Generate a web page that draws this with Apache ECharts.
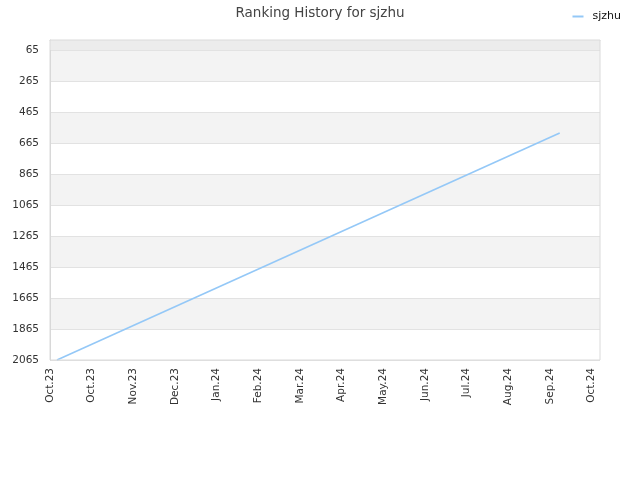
<!DOCTYPE html>
<html><head><meta charset="utf-8">
<script src="https://cdn.jsdelivr.net/npm/echarts@6/dist/echarts.min.js"></script>
<style>html,body{margin:0;padding:0;background:#fff}#c{width:640px;height:480px}</style>
</head><body><div id="c"></div>
<script>
// x values are days since 2023-10-01
const xTickLabels = ['Oct.23','Oct.23','Nov.23','Dec.23','Jan.24','Feb.24','Mar.24','Apr.24','May.24','Jun.24','Jul.24','Aug.24','Sep.24','Oct.24'];
const xTickDays = [0,30,60,90,120,150,180,210,240,270,300,330,360,390];
const yTicks = [65,265,465,665,865,1065,1265,1465,1665,1865,2065];
const seriesDays = [5, 367];
const seriesRanks = [2065, 600];
const seriesName = 'sjzhu';

const chart = echarts.init(document.getElementById('c'));
chart.setOption({
  animation: false,
  textStyle: {fontFamily: 'DejaVu Sans'},
  title: {text: 'Ranking History for ' + seriesName, left: 'center', top: 1,
    textStyle: {fontSize: 13.5, fontWeight: 'normal', color: '#444', fontFamily: 'DejaVu Sans'}},
  legend: {right: 14, top: 6, itemWidth: 11, itemHeight: 2, itemGap: 10, icon: 'rect',
    textStyle: {fontSize: 11, color: '#111', fontFamily: 'DejaVu Sans', padding: [0,0,0,4]}, data: [seriesName]},
  grid: {left: 50, right: 40, top: 40, bottom: 120, show: true, borderColor: '#dadada', borderWidth: 1, backgroundColor: 'transparent', z: 5},
  xAxis: {type: 'value', min: 0, max: 396, interval: 30,
    axisLine: {show: true, lineStyle: {color: '#d6d6d6'}},
    axisTick: {show: false},
    splitLine: {show: false},
    axisLabel: {rotate: 90, fontSize: 10.5, color: '#333', margin: 8,
      formatter: v => { const i = xTickDays.indexOf(v); return i >= 0 ? xTickLabels[i] : ''; }}
  },
  yAxis: {type: 'value', inverse: true, min: 0, max: 2065,
    axisLine: {show: true, lineStyle: {color: '#d6d6d6'}},
    axisTick: {show: false, customValues: yTicks},
    axisLabel: {fontSize: 10.5, color: '#333', margin: 11, customValues: yTicks, formatter: v => String(v)},
    splitLine: {show: true, lineStyle: {color: '#e2e2e2'}},
    splitArea: {show: true, areaStyle: {color: ['#f3f3f3', '#ffffff']}}
  },
  series: [{
    name: seriesName, type: 'line', showSymbol: false, symbol: 'none', z: 3,
    lineStyle: {color: '#94c8f7', width: 1.6}, itemStyle: {color: '#94c8f7'},
    data: seriesDays.map((d, i) => [d, seriesRanks[i]]),
    markArea: {silent: true, data: [
      [{yAxis: 0, itemStyle: {color: '#ececec'}}, {yAxis: yTicks[0]}]
    ]}
  }]
});
</script></body></html>
